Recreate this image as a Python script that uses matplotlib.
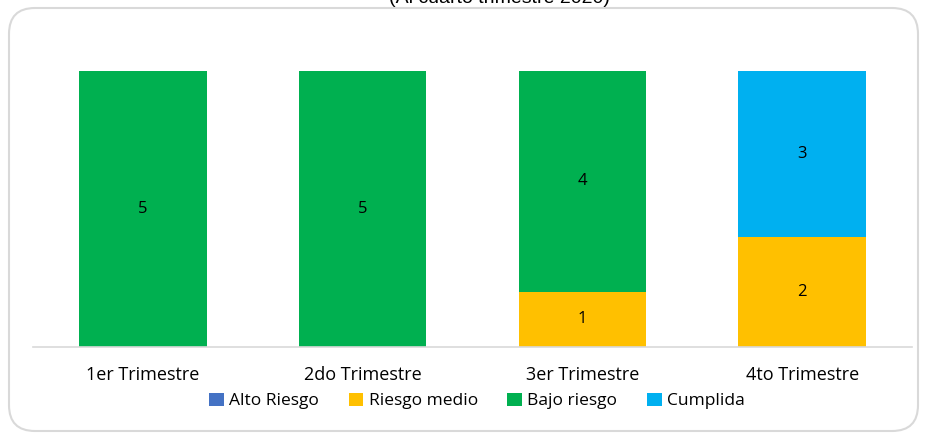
import matplotlib.pyplot as plt
from matplotlib.patches import FancyBboxPatch
import numpy as np

categories = ['1er Trimestre', '2do Trimestre', '3er Trimestre', '4to Trimestre']
alto_riesgo = [0, 0, 0, 0]
riesgo_medio = [0, 0, 1, 2]
bajo_riesgo = [5, 5, 4, 0]
cumplida = [0, 0, 0, 3]

series = [('Alto Riesgo', alto_riesgo, '#4472C4'),
          ('Riesgo medio', riesgo_medio, '#FFC000'),
          ('Bajo riesgo', bajo_riesgo, '#00B050'),
          ('Cumplida', cumplida, '#00B0F0')]

plt.rcParams['font.family'] = ['Open Sans', 'DejaVu Sans']

fig = plt.figure(figsize=(9.27, 4.34), dpi=100)
border = FancyBboxPatch((9/927, 3/434), 909/927, 423/434,
                        boxstyle='round,pad=0,rounding_size=0.028',
                        transform=fig.transFigure, facecolor='white',
                        edgecolor='#D9D9D9', linewidth=1.5, mutation_aspect=927/434,
                        zorder=-5)
fig.patches.append(border)

# title is cut off at the top edge in the original
fig.text(499/927, 1 - 3/434, '(Al cuarto trimestre 2020)', ha='center', va='baseline',
         fontsize=14, family='Liberation Sans')

ax = fig.add_axes([33/927, 1 - 347/434, 879/927, 276/434])
ax.set_zorder(2)
x = np.arange(len(categories))
bottom = np.zeros(len(categories))
for name, vals, color in series:
    vals = np.array(vals, dtype=float)
    ax.bar(x, vals, 0.58, bottom=bottom, color=color, label=name)
    for xi, v, b in zip(x, vals, bottom):
        if v > 0:
            ax.text(xi, b + v / 2, str(int(v)), ha='center', va='center', fontsize=12)
    bottom += vals

ax.set_xlim(-0.5, len(categories) - 0.5)
ax.set_ylim(0, 5)
ax.set_yticks([])
ax.set_xticks(x)
ax.set_xticklabels(categories, fontsize=13)
ax.tick_params(axis='x', length=0, pad=14)
for s in ['top', 'right', 'left']:
    ax.spines[s].set_visible(False)
ax.spines['bottom'].set_color('#D9D9D9')
ax.spines['bottom'].set_linewidth(1.2)
ax.patch.set_visible(False)

fig.legend(loc='center', bbox_to_anchor=(477/927, 1 - 401/434), ncol=4, frameon=False,
           fontsize=12.5, handlelength=0.85, handleheight=0.85, handletextpad=0.3,
           columnspacing=1.7)

fig.savefig('out.png', dpi=100)
